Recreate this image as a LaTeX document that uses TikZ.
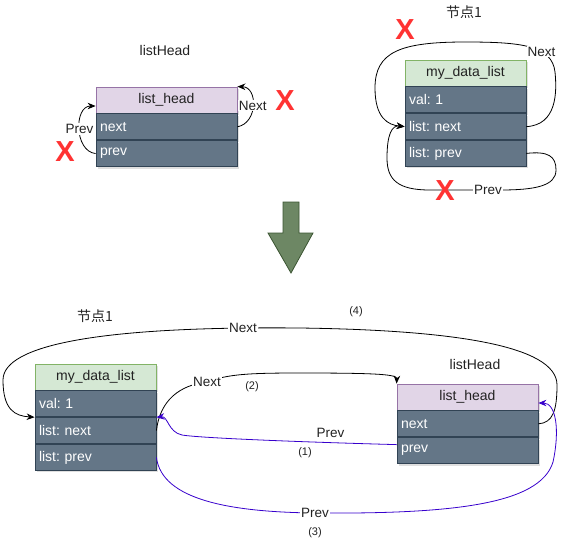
\documentclass[tikz,border=0pt]{standalone}
\usepackage{fontspec}
\setmainfont{Liberation Sans}
\newfontfamily\cjk{Noto Sans CJK SC}
\usepackage{tikz}
\usetikzlibrary{positioning,arrows.meta,calc,shadows}
\definecolor{lila}{HTML}{E1D5E7}
\definecolor{liladraw}{HTML}{9673A6}
\definecolor{menta}{HTML}{D5E8D4}
\definecolor{mentadraw}{HTML}{82B366}
\definecolor{pizarra}{HTML}{647687}
\definecolor{pizarradraw}{HTML}{314354}
\definecolor{azul}{HTML}{3700CC}
\definecolor{musgo}{HTML}{6D8764}
\definecolor{musgodraw}{HTML}{3A5431}
\definecolor{rojo}{HTML}{FF3333}
\definecolor{tinta}{HTML}{222222}
\frenchspacing

\begin{document}
\begin{tikzpicture}[x=1pt, y=-1pt,
  base/.style={minimum height=26pt, inner sep=0pt, line width=0.8pt, font=\fontsize{14}{16}\selectfont, drop shadow={shadow xshift=2pt, shadow yshift=-2pt, opacity=0.25}},
  hlista/.style={base, draw=liladraw, fill=lila, text=tinta, minimum width=141pt},
  hdato/.style={base, draw=mentadraw, fill=menta, text=tinta, minimum width=121pt},
  campo/.style={base, draw=pizarradraw, fill=pizarra, text=white, align=left, text width=#1, inner xsep=4pt},
  titulo/.style={font=\fontsize{14}{16}\selectfont, text=tinta},
  nota/.style={font=\fontsize{11}{12}\selectfont, text=tinta},
  enlace/.style={-{Stealth[length=8pt, width=6.5pt]}, line width=0.8pt, draw=black},
  etq/.style={fill=white, inner sep=1pt, font=\fontsize{13.5}{15}\selectfont, text=tinta},
  cruz/.style={font=\fontsize{29}{29}\selectfont\bfseries, text=rojo}
]
\useasboundingbox (0,0) rectangle (569,555);

% arriba: listHead
\node[titulo] (tlh1) at (165,50) {listHead};
\node[hlista] (lh1) at (166.5,100) {list\_head};
\node[campo=133pt, below=0pt of lh1] (lh1next) {next};
\node[campo=133pt, below=0pt of lh1next] (lh1prev) {prev};

\draw[enlace] (lh1next.east) .. controls (258,123) and (258,87) .. (lh1.north east) node[etq, pos=.5] {Next};
\draw[enlace] (lh1prev.west) .. controls (74,151) and (74,106) .. ([yshift=-6pt]lh1.west) node[etq, pos=.5] {Prev};

% arriba: nodo 1
\node[titulo] (tmd1) at (464,12) {\cjk 节点1};
\node[hdato] (md1) at (465.5,73) {my\_data\_list};
\node[campo=113pt, below=0pt of md1] (md1val) {val: 1};
\node[campo=113pt, below=0pt of md1val] (md1next) {list: next};
\node[campo=113pt, below=0pt of md1next] (md1prev) {list: prev};

\draw[enlace] (md1next.east) .. controls (557,125) and (557,92) .. (555,72)
  .. controls (552,45) and (520,42) .. (465,42) node[etq, pos=.35] {Next}
  .. controls (400,42) and (375,52) .. (375,88)
  .. controls (375,118) and (388,125) .. (md1next.west);
\draw[enlace] (md1prev.east) .. controls (548,151) and (556,156) .. (556,170)
  .. controls (556,186) and (535,190) .. (500,190)
  -- (430,190) node[etq, pos=.17] {Prev}
  .. controls (398,190) and (387,180) .. (387,158)
  .. controls (387,134) and (392,125) .. (md1next.west);

% las cruces
\node[cruz] (x1) at (65,152) {X};
\node[cruz] (x2) at (285,101) {X};
\node[cruz] (x3) at (405,30) {X};
\node[cruz] (x4) at (445,191) {X};

% flecha verde
\filldraw[fill=musgo, draw=musgodraw, line width=0.8pt] (283,202) -- (299,202) -- (299,233) -- (313,233) -- (291,273) -- (268,233) -- (283,233) -- cycle;

% abajo: nodo 1 y listHead
\node[titulo] (tmd2) at (95,316) {\cjk 节点1};
\node[hdato] (md2) at (95.5,377) {my\_data\_list};
\node[campo=113pt, below=0pt of md2] (md2val) {val: 1};
\node[campo=113pt, below=0pt of md2val] (md2next) {list: next};
\node[campo=113pt, below=0pt of md2next] (md2prev) {list: prev};

\node[titulo] (tlh2) at (475,364) {listHead};
\node[hlista] (lh2) at (467.5,397) {list\_head};
\node[campo=133pt, below=0pt of lh2] (lh2next) {next};
\node[campo=133pt, below=0pt of lh2next] (lh2prev) {prev};

% (4)
\draw[enlace] (lh2next.east) .. controls (553,423) and (557,410) .. (557,385)
  .. controls (557,345) and (450,330) .. (300,328)
  .. controls (100,326) and (3,345) .. (3,380) node[etq, pos=.1] {Next}
  .. controls (3,410) and (15,416) .. (md2next.north west);
% (2)
\draw[enlace] (md2next.east) .. controls (160,400) and (180,385) .. (207,382) node[etq, pos=1] {Next}
  .. controls (228,374) and (250,373) .. (300,373)
  .. controls (370,373) and (397,374) .. (lh2.north west);
% (1)
\draw[enlace, draw=azul] ([yshift=6pt]lh2prev.west) .. controls (300,442) and (200,438) .. (182,435) node[etq, pos=.23, above=4pt] {Prev}
  .. controls (168,432) and (168,416) .. (md2next.north east);
% (3)
\draw[enlace, draw=azul] (md2prev.east) .. controls (162,500) and (230,512) .. (315,513) node[etq, pos=1] {Prev}
  .. controls (450,514) and (540,505) .. (553,462)
  .. controls (560,430) and (556,403) .. ([yshift=-6pt]lh2.east);

\node[nota] (n4) at (356,312) {(4)};
\node[nota] (n2) at (252,387) {(2)};
\node[nota] (n1) at (305,453) {(1)};
\node[nota] (n3) at (315,533) {(3)};
\end{tikzpicture}
\end{document}
